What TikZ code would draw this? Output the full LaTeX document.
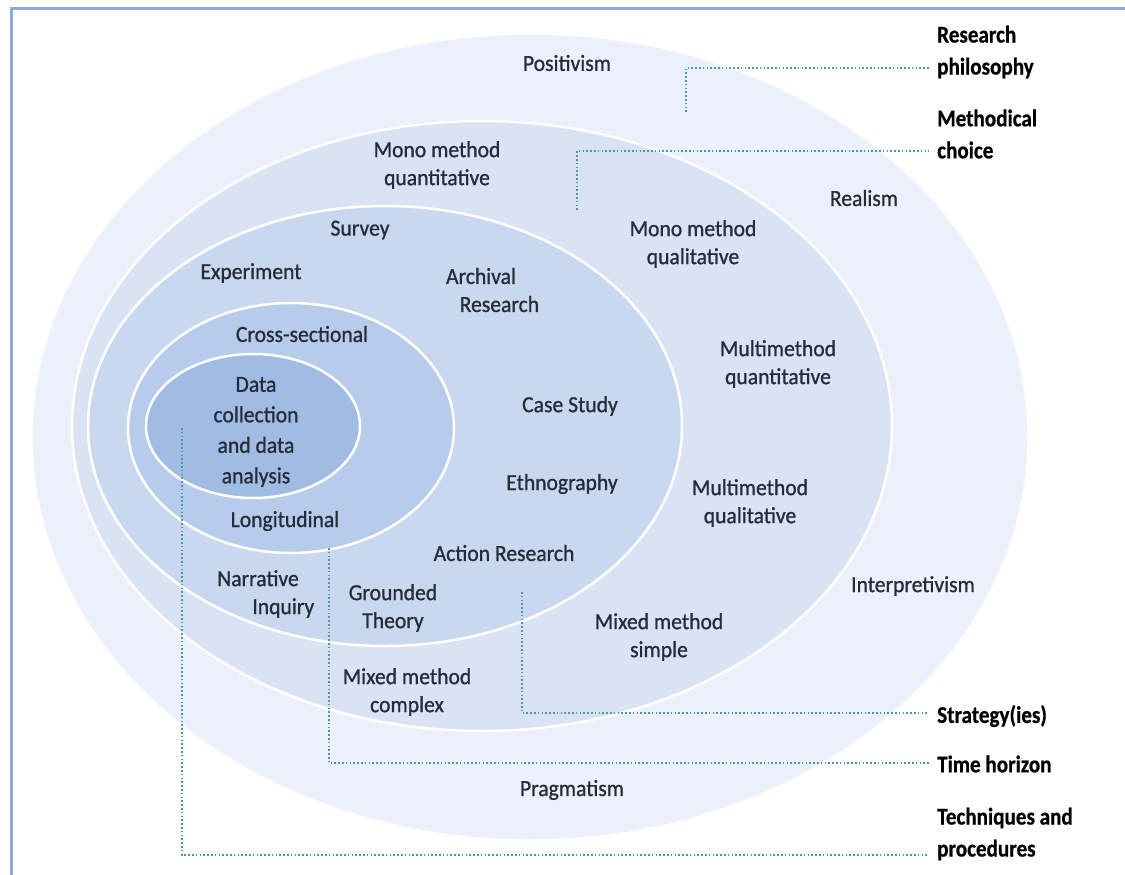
\documentclass[tikz,border=0pt]{standalone}
\usepackage{fontspec}
\setmainfont{Carlito}
\newfontfamily\lblfont[FakeBold=0.9,FakeStretch=0.94]{Carlito}
\newfontfamily\sidefont[FakeBold=0.6,FakeStretch=0.88]{Carlito Bold}
\definecolor{frame}{HTML}{8EAADB}
\definecolor{c1}{HTML}{EBF0FA}
\definecolor{c2}{HTML}{DAE3F3}
\definecolor{c3}{HTML}{C9D8EF}
\definecolor{c4}{HTML}{B7CCEA}
\definecolor{c5}{HTML}{A0BCE3}
\definecolor{dotc}{HTML}{4A98A3}
\definecolor{txt}{HTML}{242C3A}
\begin{document}
\begin{tikzpicture}[x=1pt,y=-1pt,
  lbl/.style={align=center,inner sep=0pt,text=txt,font=\lblfont\fontsize{23}{28}\selectfont},
  side/.style={align=left,inner sep=0pt,anchor=west,text=black,font=\sidefont\fontsize{24}{32}\selectfont},
  conn/.style={draw=dotc,line width=2.2pt,dash pattern=on 1.6pt off 2.2pt},
  ring/.style={draw=white,line width=2.5pt}]
\useasboundingbox (0,0) rectangle (1125,875);
\fill[white] (0,0) rectangle (1125,875);
% frame
\draw[frame,line width=3pt] (11,875) -- (11,8.5) -- (1125,8.5);
% ellipses
\path[fill=c1,draw=c1!70!white,line width=1pt] (530,437) ellipse [x radius=497, y radius=402];
\path[ring,fill=c2] (482,426) ellipse [x radius=410, y radius=305];
\path[ring,fill=c3] (385,426) ellipse [x radius=297, y radius=220];
\path[ring,fill=c4] (291,428) ellipse [x radius=163, y radius=125];
\path[ring,fill=c5] (253,426) ellipse [x radius=107, y radius=72];
% philosophy labels
\node[lbl] (pos) at (567,63) {Positivism};
\node[lbl] (real) at (864,198) {Realism};
\node[lbl] (interp) at (913,586) {Interpretivism};
\node[lbl] (prag) at (572,790) {Pragmatism};
% methodical choice
\node[lbl] (mmquant) at (437,165) {Mono method\\quantitative};
\node[lbl] (mmqual) at (693,244) {Mono method\\qualitative};
\node[lbl] (multquant) at (778,364) {Multimethod\\quantitative};
\node[lbl] (multqual) at (750,503) {Multimethod\\qualitative};
\node[lbl] (mixs) at (659,637) {Mixed method\\simple};
\node[lbl] (mixc) at (407,692) {Mixed method\\complex};
% strategies
\node[lbl] (survey) at (360,230) {Survey};
\node[lbl] (exp) at (251,273) {Experiment};
\node[lbl] (arch) at (481,290) {Archival\\\hspace*{1.6em}Research};
\node[lbl] (case) at (570,406) {Case Study};
\node[lbl] (eth) at (562,484) {Ethnography};
\node[lbl] (act) at (504,553) {Action Research};
\node[lbl] (gt) at (393,608) {Grounded\\Theory};
\node[lbl] (narr) at (258,594) {Narrative\\\hspace*{2.2em}Inquiry};
% time horizon
\node[lbl] (cross) at (302,334) {Cross-sectional};
\node[lbl] (longi) at (285,521) {Longitudinal};
% techniques
\node[lbl,font=\lblfont\fontsize{23}{30.5}\selectfont] (data) at (256,432) {Data\\collection\\and data\\analysis};
% side labels
\node[side] (rp) at (937,52) {Research\\philosophy};
\node[side] (mc) at (937,134) {Methodical\\choice};
\node[side] (st) at (937,716) {Strategy(ies)};
\node[side] (th) at (937,764) {Time horizon};
\node[side] (tp) at (937,834) {Techniques and\\procedures};
% connector points
\coordinate (rpS) at (686,112);
\coordinate (mcS) at (577,210);
\coordinate (stS) at (522,592);
\coordinate (thS) at (329,548);
\coordinate (tpS) at (182,428);
\coordinate (rpE) at (929,68);
\coordinate (mcE) at (929,151);
\coordinate (stE) at (929,713);
\coordinate (thE) at (929,763);
\coordinate (tpE) at (929,855);
\draw[conn] (rpS) |- (rpE);
\draw[conn] (mcS) |- (mcE);
\draw[conn] (stS) |- (stE);
\draw[conn] (thS) |- (thE);
\draw[conn] (tpS) |- (tpE);
\end{tikzpicture}
\end{document}
